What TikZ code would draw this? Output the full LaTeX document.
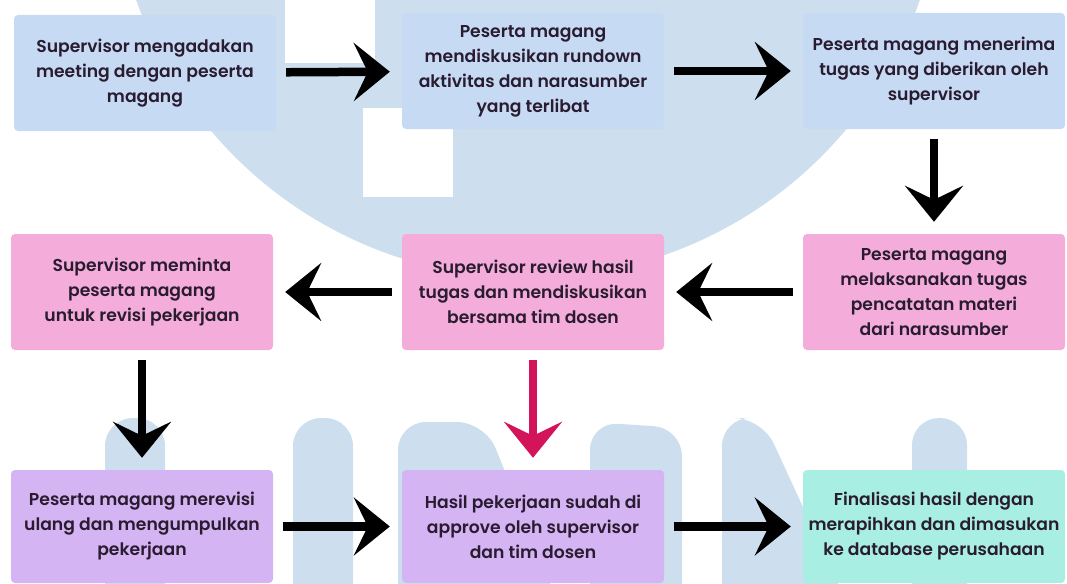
\documentclass[tikz,border=0pt]{standalone}
\usepackage{fontspec}
\setmainfont{Poppins}[UprightFont=* SemiBold]
\usetikzlibrary{arrows.meta}

\definecolor{wmblue}{HTML}{CDDFEE}
\definecolor{boxblue}{HTML}{C7DAF4}
\definecolor{boxpink}{HTML}{F4ADDA}
\definecolor{boxpurple}{HTML}{D5B4F3}
\definecolor{boxteal}{HTML}{A8EEE2}
\definecolor{txtdark}{HTML}{2A1C30}
\definecolor{redarrow}{HTML}{D3145A}

\begin{document}
\begin{tikzpicture}[x=1pt,y=-1pt]
    \newcommand{\boxfont}[0]{\fontsize{17.2}{25}\selectfont}

    \tikzstyle{dedge} = [line width=8.5pt,-{Stealth[length=36pt,width=58pt,inset=14pt]},draw=black,
      shorten <=10pt,shorten >=12pt]

    \tikzstyle{node}=[
      rectangle,
      rounded corners=4pt,
      anchor=center,
      minimum width=262pt,
      minimum height=116pt,
      inner sep=0pt,
      align=center,
      text=txtdark,
      font=\boxfont,
    ]

    \useasboundingbox (0,0) rectangle (1067,583);

    % watermark in the background
    \begin{scope}
      \clip (0,0) rectangle (1067,583);
      \fill[wmblue] (528,-137) circle[radius=415];
      \fill[white] (285,-10) rectangle (375,63);
      \fill[white] (363,108) rectangle (453,197);
      \fill[wmblue,rounded corners=28pt] (105,620) -- (105,418) -- (165,418) -- (165,620) -- cycle;
      \fill[wmblue,rounded corners=28pt] (293,620) -- (293,418) -- (353,418) -- (353,620) -- cycle;
      \fill[wmblue,rounded corners=28pt] (398,620) -- (398,422) -- (485,422) -- (565,620) -- cycle;
      \fill[wmblue,rounded corners=28pt] (590,620) -- (590,422) -- (682,428) -- (682,620) -- cycle;
      \fill[wmblue,rounded corners=28pt] (722,620) -- (722,418) -- (762,418) -- (855,620) -- cycle;
      \fill[wmblue,rounded corners=27pt] (912,620) -- (912,418) -- (967,418) -- (967,620) -- cycle;
    \end{scope}

    \node[node,fill=boxblue] (n1) at (145,73) {
      Supervisor mengadakan\\meeting dengan peserta\\magang
    };

    \node[node,fill=boxblue] (n2) at (533,71) {
      Peserta magang\\mendiskusikan rundown\\aktivitas dan narasumber\\yang terlibat
    };

    \node[node,fill=boxblue] (n3) at (934,71) {
      Peserta magang menerima\\tugas yang diberikan oleh\\supervisor
    };

    \node[node,fill=boxpink] (n4) at (934,292) {
      Peserta magang\\melaksanakan tugas\\pencatatan materi\\dari narasumber
    };

    \node[node,fill=boxpink] (n5) at (533,292) {
      Supervisor review hasil\\tugas dan mendiskusikan\\bersama tim dosen
    };

    \node[node,fill=boxpink] (n6) at (142,292) {
      Supervisor meminta\\peserta magang\\untuk revisi pekerjaan
    };

    \node[node,fill=boxpurple,minimum height=113pt] (n7) at (142,526.5) {
      Peserta magang merevisi\\ulang dan mengumpulkan\\pekerjaan
    };

    \node[node,fill=boxpurple,minimum height=113pt] (n8) at (533,526.5) {
      Hasil pekerjaan sudah di\\approve oleh supervisor\\dan tim dosen
    };

    \node[node,fill=boxteal,minimum height=113pt] (n9) at (934,526.5) {
      Finalisasi hasil dengan\\merapihkan dan dimasukan\\ke database perusahaan
    };

    \draw[dedge] (n1)--(n2);
    \draw[dedge] (n2)--(n3);
    \draw[dedge] (n3)--(n4);
    \draw[dedge] (n4)--(n5);
    \draw[dedge] (n5)--(n6);
    \draw[dedge] (n6)--(n7);
    \draw[dedge,draw=redarrow,fill=redarrow] (n5)--(n8);
    \draw[dedge] (n7)--(n8);
    \draw[dedge] (n8)--(n9);
  \end{tikzpicture}
\end{document}
